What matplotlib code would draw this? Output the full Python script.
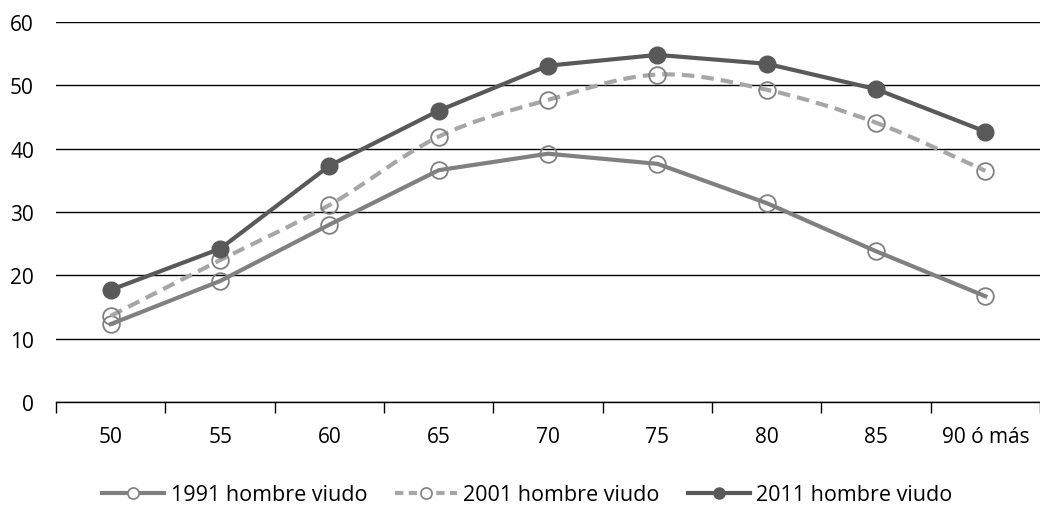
import matplotlib
matplotlib.use("Agg")
import matplotlib.pyplot as plt
import numpy as np
from matplotlib.path import Path
from matplotlib.patches import PathPatch
from matplotlib.lines import Line2D

edades = ["50", "55", "60", "65", "70", "75", "80", "85", "90 ó más"]
viudo_1991 = [12.3, 19.1, 28.0, 36.6, 39.2, 37.6, 31.4, 23.8, 16.7]
viudo_2001 = [13.6, 22.4, 31.1, 41.9, 47.7, 51.7, 49.3, 44.1, 36.5]
viudo_2011 = [17.7, 24.2, 37.3, 46.0, 53.1, 54.8, 53.4, 49.4, 42.7]

COLOR_1991 = "#808080"
COLOR_2001 = "#a6a6a6"
COLOR_2011 = "#595959"

plt.rcParams["font.family"] = ["Open Sans", "DejaVu Sans"]


def curva_suave(x, y):
    """Path de Bezier (tipo Catmull-Rom) que pasa por los puntos."""
    p = np.column_stack([x, y]).astype(float)
    verts = [p[0]]
    codes = [Path.MOVETO]
    n = len(p)
    for i in range(n - 1):
        p0 = p[i - 1] if i > 0 else p[i]
        p3 = p[i + 2] if i + 2 < n else p[i + 1]
        c1 = p[i] + (p[i + 1] - p0) / 6.0
        c2 = p[i + 1] - (p3 - p[i]) / 6.0
        verts += [c1, c2, p[i + 1]]
        codes += [Path.CURVE4] * 3
    return Path(verts, codes)


x = np.arange(len(edades))

fig = plt.figure(figsize=(10.4, 5.06), dpi=100)
ax = fig.add_axes([0.054, 0.2036, 0.946, 0.751])

ax.set_ylim(0, 60)
ax.set_xlim(-0.5, len(edades) - 0.5)
ax.set_yticks(range(0, 61, 10))
ax.grid(True, axis="y", color="black", linewidth=1)
ax.set_axisbelow(True)

ax.plot(x, viudo_1991, color=COLOR_1991, lw=3, marker="o", ms=12,
        mfc="none", mec=COLOR_1991, mew=1.3, zorder=3)

patch = PathPatch(curva_suave(x, viudo_2001), facecolor="none",
                  edgecolor=COLOR_2001, lw=3, linestyle=(0, (3, 1.7)), zorder=3)
ax.add_patch(patch)
ax.plot(x, viudo_2001, linestyle="none", marker="o", ms=12,
        mfc="none", mec=COLOR_1991, mew=1.3, zorder=3)

ax.plot(x, viudo_2011, color=COLOR_2011, lw=3, marker="o", ms=12,
        mfc=COLOR_2011, mec=COLOR_2011, zorder=4)

for lado in ["left", "right", "top"]:
    ax.spines[lado].set_visible(False)
ax.spines["bottom"].set_color("black")
ax.spines["bottom"].set_linewidth(1)

ax.set_xticks(x)
ax.set_xticklabels(edades)
ax.set_xticks(np.arange(-0.5, len(edades), 1), minor=True)
ax.tick_params(axis="x", which="major", length=0, pad=17, labelsize=15)
ax.tick_params(axis="x", which="minor", length=8, width=1, color="black")
ax.tick_params(axis="y", length=0, pad=16, labelsize=15)

manijas = [
    Line2D([], [], color=COLOR_1991, lw=3, marker="o", ms=8, mfc="white", mec=COLOR_1991, mew=1.2),
    Line2D([], [], color=COLOR_2001, lw=3, linestyle=(0, (2, 1.3)), marker="o", ms=8, mfc="white", mec=COLOR_1991, mew=1.2),
    Line2D([], [], color=COLOR_2011, lw=3, marker="o", ms=8, mfc=COLOR_2011, mec=COLOR_2011),
]
fig.legend(manijas, ["1991 hombre viudo", "2001 hombre viudo", "2011 hombre viudo"],
           loc="center", bbox_to_anchor=(0.507, 0.02), ncol=3, frameon=False,
           fontsize=15.5, handlelength=2.9, columnspacing=1.3, handletextpad=0.28)

fig.savefig("out.png", dpi=100)
plt.close(fig)
